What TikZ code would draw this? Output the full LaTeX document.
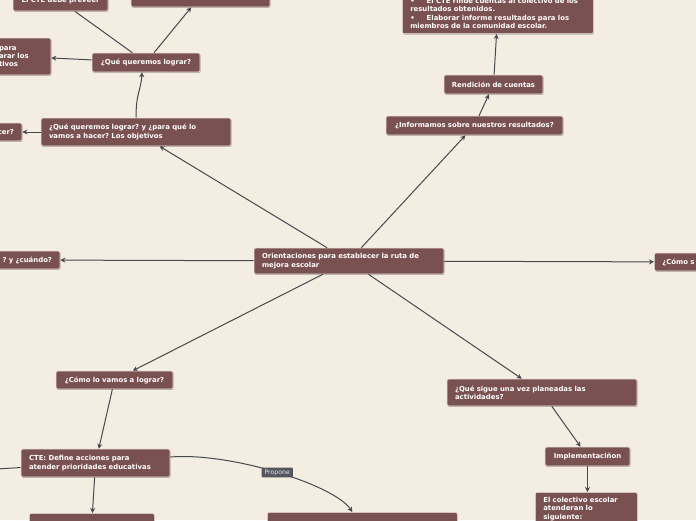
\documentclass[tikz,border=0pt]{standalone}
\usepackage{fontspec}
\setmainfont{DejaVu Sans}
\usepackage{xcolor}
\usepackage{tikz}
\usetikzlibrary{arrows.meta, calc, shadows}
\frenchspacing
\definecolor{mybg}{RGB}{243,237,226}
\definecolor{boxbrown}{RGB}{122,81,81}
\definecolor{boxedge}{RGB}{236,228,222}
\definecolor{linkgray}{RGB}{72,72,80}
\definecolor{tagdark}{RGB}{84,86,94}
\definecolor{tagtext}{RGB}{232,232,236}
\tikzset{
  topic/.style={rectangle, draw=boxedge, fill=boxbrown, text=white,
    rounded corners=2pt, line width=0.6pt,
    font=\fontsize{6.9}{8.3}\selectfont\bfseries,
    inner xsep=8pt, inner ysep=3pt, align=left,
    drop shadow={shadow xshift=0.6pt, shadow yshift=-0.9pt, opacity=0.3, fill=black}},
  linklabel/.style={rectangle, fill=tagdark, text=tagtext, rounded corners=1pt,
    font=\fontsize{6.2}{7}\selectfont, inner xsep=3pt, inner ysep=2pt},
  arrow/.style={-{Stealth[length=5pt,width=5pt]}, line width=1pt, color=linkgray},
  line/.style={line width=1pt, color=linkgray}
}
\begin{document}
\begin{tikzpicture}[x=1pt, y=-1pt]
  \useasboundingbox (0,0) rectangle (696,520);
  \fill[mybg] (0,0) rectangle (696,520);
  \clip (0,0) rectangle (696,520);

  % central topic
  \node[topic, text width=174pt, minimum height=26pt] (center) at (349,261)
    {Orientaciones para establecer la ruta de\\mejora escolar};

  % upper left branch
  \node[topic, text width=174pt, minimum height=28pt] (objetivos) at (136,132)
    {¿Qué queremos lograr? y ¿para qué lo\\vamos a hacer? Los objetivos};
  \node[topic, text width=92pt, minimum height=19pt, align=center] (qlograr) at (146,62.5)
    {¿Qué queremos lograr?};
  \node[topic, text width=79pt, minimum height=20pt, align=center] (preveer) at (60.5,1)
    {El CTE debe preveer};
  \node[topic, text width=123pt, minimum height=22pt] (metas) at (200.5,-4) {};
  \node[topic, text width=44pt, minimum height=37pt] (acciones) at (21,56.5)
    {para\\arar los\\tivos};
  \node[topic, text width=18pt, minimum height=18pt, align=right] (hacer) at (5,132)
    {cer?};

  % left and right
  \node[topic, text width=56pt, minimum height=18pt, align=right] (cuando) at (24,260)
    {? y ¿cuándo?};
  \node[topic, text width=80pt, minimum height=18pt, anchor=west] (comos) at (654,262)
    {¿Cómo s};

  % upper right branch
  \node[topic, text width=161pt, minimum height=19pt, align=center] (informamos) at (474.5,125.5)
    {¿Informamos sobre nuestros resultados?};
  \node[topic, text width=87pt, inner xsep=6pt, minimum height=19pt, align=center] (rendicion) at (493.5,84.5)
    {Rendición de cuentas};
  \node[topic, text width=175pt, anchor=south west, inner ysep=5pt,
    font=\fontsize{6.9}{8.5}\selectfont\bfseries] (informe) at (402,34)
    {•\hspace{12pt}El CTE rinde cuentas al colectivo de los\\
     resultados obtenidos.\\
     •\hspace{12pt}Elaborar informe resultados para los\\
     miembros de la comunidad escolar.};

  % lower left branch
  \node[topic, text width=101pt, minimum height=18pt, align=center] (comolo) at (114.5,380)
    {¿Cómo lo vamos a lograr?};
  \node[topic, text width=133pt, minimum height=28pt] (cte) at (95.5,463)
    {CTE: Define acciones para\\atender prioridades educativas};
  \node[topic, text width=109pt, minimum height=20pt, anchor=north west] (bleft) at (29,513) {};
  \node[topic, text width=174pt, minimum height=20pt, anchor=north west] (bmid) at (267,512) {};
  \coordinate (offleft) at (-20,470);

  % lower right branch
  \node[topic, text width=174pt, minimum height=27pt] (qsigue) at (542,392.5)
    {¿Qué sigue una vez planeadas las\\actividades?};
  \node[topic, text width=71pt, inner xsep=7pt, minimum height=19pt, align=center] (implem) at (587.5,456.5)
    {Implementaciñon};
  \node[topic, text width=86pt, anchor=north west, inner ysep=5pt] (colectivo) at (535,492)
    {El colectivo escolar\\atenderan lo\\siguiente:};

  % connectors
  \draw[arrow] (center) -- (objetivos);
  \draw[arrow] (center) -- (informamos);
  \draw[arrow] (center) -- (cuando);
  \draw[arrow] (center) -- (comos);
  \draw[arrow] (center) -- (comolo);
  \draw[arrow] (center) -- (qsigue);

  \draw[arrow] (objetivos.north) .. controls +(0,-25) and +(-1,18) .. ($(qlograr.south)+(-4,0)$);
  \draw[arrow] (objetivos) -- (hacer);
  \draw[arrow] (qlograr) -- (metas);
  \draw[line] (qlograr) -- (preveer);
  \draw[arrow] (qlograr) -- (acciones);

  \draw[arrow] (informamos) -- (rendicion);
  \draw[arrow] (rendicion) -- (informe);

  \draw[arrow] (comolo) -- (cte);
  \draw[arrow] (cte) -- (bleft);
  \draw[line] (cte) -- (offleft);
  \draw[arrow] ($(cte.east)+(0,-6)$) .. controls (230,452) and (335,485) .. ($(bmid.north)+(-10,0)$)
    node[linklabel, pos=0.5] (propone) {Propone};

  \draw[arrow] (qsigue) -- (implem);
  \draw[arrow] (implem.south) -- (colectivo.north -| implem.south);
\end{tikzpicture}
\end{document}
